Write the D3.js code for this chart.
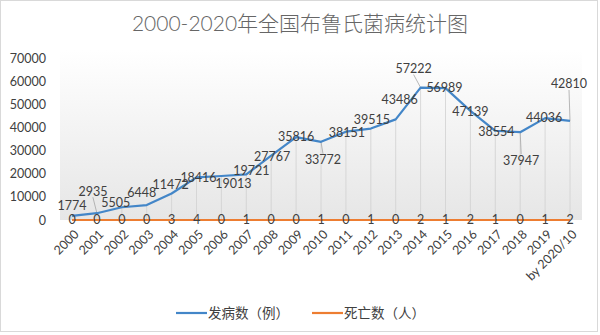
<!DOCTYPE html>
<html><head><meta charset="utf-8">
<script src="https://cdn.jsdelivr.net/npm/d3@7"></script>
<style>body{margin:0;background:#fff}svg{display:block}</style>
</head><body><svg id="c" width="600" height="335"></svg>
<script>
const categories = ["2000","2001","2002","2003","2004","2005","2006","2007","2008","2009","2010","2011","2012","2013","2014","2015","2016","2017","2018","2019","by 2020/10"];
const cases = [1774,2935,5505,6448,11472,18416,19013,19721,27767,35816,33772,38151,39515,43486,57222,56989,47139,38554,37947,44036,42810];
const deaths = [0,0,0,0,3,4,0,1,0,0,1,0,1,0,2,1,2,1,0,1,2];
const yTicks = [0,10000,20000,30000,40000,50000,60000,70000];
const seriesNames = ["发病数（例）","死亡数（人）"];
const title = "2000-2020年全国布鲁氏菌病统计图";
// label placement (layout only): [dx, dy, leader]
const caseLabelOffsets = [[0,-10,0],[-4,-22,1],[-6,-5,0],[-5,-12,0],[-1,-9,0],[2,0,0],[12,8,0],[5,-4,0],[1,1,0],[0,0,0],[2,18,1],[1,1,0],[1,-9,0],[4,-20,0],[-7,-19,1],[-1,0,0],[0,1,0],[1,1,0],[1,28,1],[-1,0,0],[-1,-37,1]];

const svg = d3.select("#c");
const FONT = "Lato, 'Noto Sans CJK SC', sans-serif";
const blue = "#4386c8", orange = "#ED7D31", txt = "#404040";

const x = d3.scalePoint().domain(categories).range([72, 570]);
const y = d3.scaleLinear().domain([0, 70000]).range([220, 58]);

// frame
svg.append("rect").attr("x",0.5).attr("y",0.5).attr("width",597).attr("height",331)
  .attr("fill","#fff").attr("stroke","#d9d9d9");

// plot background gradient
const defs = svg.append("defs");
const g = defs.append("linearGradient").attr("id","bg").attr("x1",0).attr("y1",0).attr("x2",0).attr("y2",1);
g.append("stop").attr("offset","0%").attr("stop-color","#ffffff");
g.append("stop").attr("offset","100%").attr("stop-color","#e6e6e6");
svg.append("rect").attr("x",60).attr("y",50).attr("width",522).attr("height",170).attr("fill","url(#bg)");

// title
svg.append("text").attr("x",300).attr("y",31).attr("text-anchor","middle")
  .attr("font-family",FONT).attr("font-size",21).attr("font-weight",300).attr("fill","#666666").text(title);

// y axis
const yAxis = d3.axisLeft(y).tickValues(yTicks).tickSize(0).tickPadding(0).tickFormat(d3.format("d"));
const ya = svg.append("g").attr("transform","translate(46,0)").call(yAxis);
ya.select(".domain").remove();
ya.selectAll("text").attr("font-family",FONT).attr("font-size",12.5).attr("fill",txt);

// x axis labels
const xAxis = d3.axisBottom(x).tickSize(0).tickPadding(0);
const xa = svg.append("g").attr("transform","translate(0,228)").call(xAxis);
xa.select(".domain").remove();
xa.selectAll("text").attr("font-family",FONT).attr("font-size",12.5).attr("fill",txt)
  .attr("text-anchor","end").attr("dy","0.35em")
  .attr("transform","translate(4,4) rotate(-45)");

// drop lines
svg.append("g").selectAll("line").data(cases).join("line")
  .attr("x1",(d,i)=>x(categories[i])).attr("x2",(d,i)=>x(categories[i]))
  .attr("y1",d=>y(d)).attr("y2",y(0))
  .attr("stroke","#d0d0d0").attr("stroke-width",0.8);

// leader lines
cases.forEach((d,i)=>{
  const o = caseLabelOffsets[i];
  if(!o[2]) return;
  const px = x(categories[i]), py = y(d);
  const lx = px + o[0], ly = py + o[1] + (o[1] < 0 ? 6 : -6);
  svg.append("line").attr("x1",px).attr("y1",py).attr("x2",lx).attr("y2",ly)
    .attr("stroke","#a6a6a6").attr("stroke-width",0.8);
});

// lines
const line = d3.line().x((d,i)=>x(categories[i])).y(d=>y(d));
svg.append("path").datum(deaths).attr("d",line).attr("fill","none").attr("stroke",orange).attr("stroke-width",2);
svg.append("path").datum(cases).attr("d",line).attr("fill","none").attr("stroke",blue).attr("stroke-width",2.2).attr("stroke-linejoin","round");

// case labels
svg.append("g").selectAll("text").data(cases).join("text")
  .attr("x",(d,i)=>x(categories[i])+caseLabelOffsets[i][0])
  .attr("y",(d,i)=>y(d)+caseLabelOffsets[i][1])
  .attr("dy","0.35em").attr("text-anchor","middle")
  .attr("font-family",FONT).attr("font-size",12.5).attr("fill",txt).text(d=>d);

// death labels
svg.append("g").selectAll("text").data(deaths).join("text")
  .attr("x",(d,i)=>x(categories[i])).attr("y",d=>y(d))
  .attr("dy","0.35em").attr("text-anchor","middle")
  .attr("font-family",FONT).attr("font-size",12.5).attr("fill",txt).text(d=>d);

// legend
const legend = [{name:seriesNames[0],color:blue,x:176},{name:seriesNames[1],color:orange,x:312}];
const lg = svg.append("g").selectAll("g").data(legend).join("g").attr("transform",d=>`translate(${d.x},313)`);
lg.append("line").attr("x1",0).attr("x2",31).attr("stroke",d=>d.color).attr("stroke-width",2.2);
lg.append("text").attr("x",32).attr("dy","0.35em").attr("font-family",FONT).attr("font-size",13.5)
  .attr("fill",txt).text(d=>d.name);
</script></body></html>
